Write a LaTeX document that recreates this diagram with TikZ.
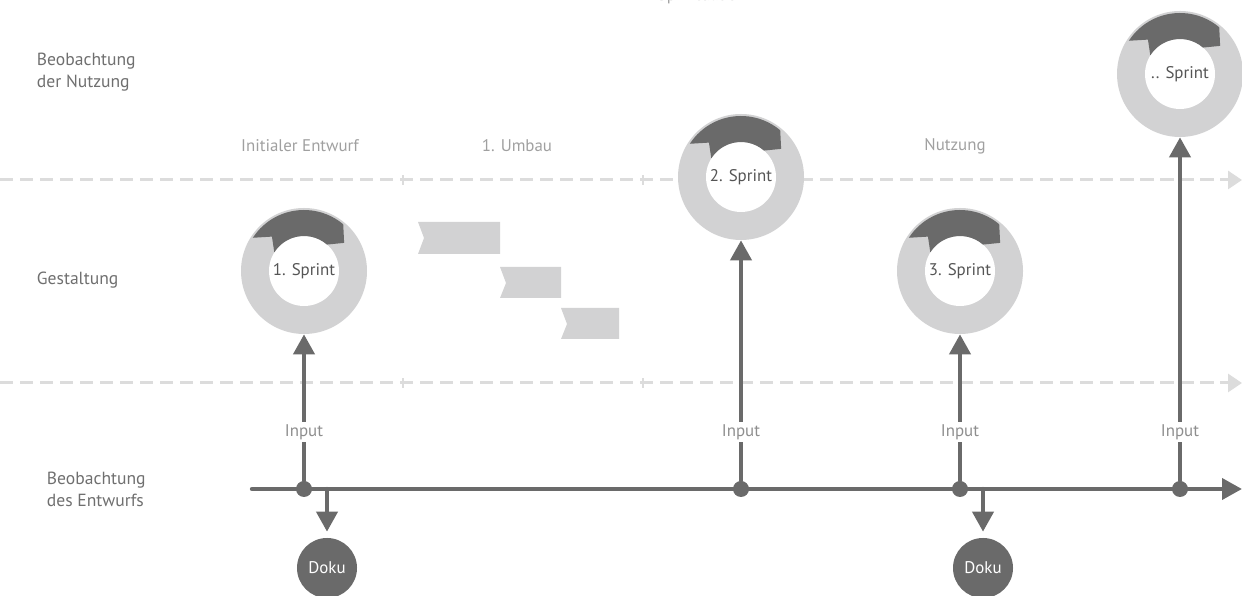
\documentclass[tikz,border=0pt]{standalone}
\usepackage{fontspec}
\setmainfont{PT Sans}
\usetikzlibrary{arrows.meta,backgrounds}

\definecolor{sprintdark}{HTML}{6A6A6A}
\definecolor{ringgray}{HTML}{D2D2D3}
\definecolor{guidegray}{HTML}{DCDCDC}
\definecolor{lanegray}{HTML}{6F6F6F}
\definecolor{phasegray}{HTML}{A0A0A0}
\definecolor{inputgray}{HTML}{8E8E8E}
\definecolor{sprinttext}{HTML}{555555}

\begin{document}
\begin{tikzpicture}[x=0.025cm,y=0.025cm,line cap=round,
    flow/.style={-{Triangle[width=0.52cm,length=0.5cm]},line width=0.11cm,draw=sprintdark},
    guide/.style={-{Triangle[width=0.45cm,length=0.35cm]},line width=0.075cm,
                  draw=guidegray,line cap=butt,dash pattern=on 0.33cm off 0.17cm},
    sprint/.style={circle,minimum size=3.15cm,inner sep=0pt,text=sprinttext,
                   font=\fontsize{12}{14}\selectfont},
    doku/.style={circle,fill=sprintdark,minimum size=1.5cm,inner sep=0pt,text=white,
                 font=\fontsize{12}{14}\selectfont},
    dot/.style={circle,fill=sprintdark,minimum size=0.4cm,inner sep=0pt},
    lane/.style={anchor=west,align=left,text=lanegray,font=\fontsize{12.5}{15.5}\selectfont},
    phase/.style={text=phasegray,font=\fontsize{12}{14}\selectfont},
    input/.style={fill=white,text=inputgray,inner sep=2pt,font=\fontsize{12}{14}\selectfont}]

  \useasboundingbox (0,0) rectangle (1242,596);

  % lanes and phases
  \node[lane] (nutzung)  at (32,524) {Beobachtung\\der Nutzung};
  \node[lane] (gestalt)  at (32,316) {Gestaltung};
  \node[lane] (entwurf)  at (42,107) {Beobachtung\\des Entwurfs};
  \node[phase] (initial) at (300,450) {Initialer Entwurf};
  \node[phase] (umbau)   at (517,450) {1. Umbau};
  \node[phase] (usage)   at (955,450) {Nutzung};
  \node[phase] (dauer)   at (700,600) {Sprintdauer};

  % sprints
  \node[sprint] (s1) at (304,325)  {1. Sprint};
  \node[sprint] (s2) at (741,419)  {2. Sprint};
  \node[sprint] (s3) at (960,325)  {3. Sprint};
  \node[sprint] (s4) at (1180,522) {.. Sprint};

  % timeline
  \coordinate (tl) at (252,107);
  \coordinate (tr) at (1242,107);
  \coordinate (k1) at (327,107);
  \coordinate (k2) at (983,107);
  \node[dot] (d1) at (304,107)  {};
  \node[dot] (d2) at (741,107)  {};
  \node[dot] (d3) at (960,107)  {};
  \node[dot] (d4) at (1180,107) {};
  \node[doku] (doku1) at (327,28) {Doku};
  \node[doku] (doku2) at (983,28) {Doku};

  \draw[flow] (tl) -- (tr);
  \draw[flow] (d1) -- (s1);
  \draw[flow] (d2) -- (s2);
  \draw[flow] (d3) -- (s3);
  \draw[flow] (d4) -- (s4);
  \draw[flow,shorten >=0.15cm] (k1) -- (doku1);
  \draw[flow,shorten >=0.15cm] (k2) -- (doku2);

  \node[input] (i1) at (304,164)  {Input};
  \node[input] (i2) at (741,164)  {Input};
  \node[input] (i3) at (960,164)  {Input};
  \node[input] (i4) at (1180,164) {Input};

  \begin{scope}[on background layer]
    % guide lines
    \coordinate (gl1) at (0,416);
    \coordinate (gr1) at (1242,416);
    \coordinate (gl2) at (0,213);
    \coordinate (gr2) at (1242,213);
    \draw[guide] (gl1) -- (gr1);
    \draw[guide] (gl2) -- (gr2);
    \foreach \x in {403,643}
      \foreach \y in {416,213}
        \draw[guidegray,line width=0.05cm] (\x,\y-5) -- (\x,\y+5);

    % rings
    \foreach \s in {s1,s2,s3,s4} {
      \fill[ringgray] (\s) circle[radius=63];
      \fill[white] (\s) circle[radius=35];
      \fill[sprintdark,shift={(\s)}] (147:61) arc[start angle=147,end angle=50,radius=61]
        -- (35:49) -- (49:35) arc[start angle=49,end angle=148,radius=35]
        -- (133:47) -- cycle;
    }

    % rebuild steps
    \fill[ringgray] (418,374) -- (500,374) -- (500,342) -- (418,342) -- (424,358) -- cycle;
    \fill[ringgray] (500,329) -- (561,329) -- (561,298) -- (500,298) -- (506,313) -- cycle;
    \fill[ringgray] (561,288) -- (619,288) -- (619,257) -- (561,257) -- (567,272) -- cycle;
  \end{scope}
\end{tikzpicture}
\end{document}
